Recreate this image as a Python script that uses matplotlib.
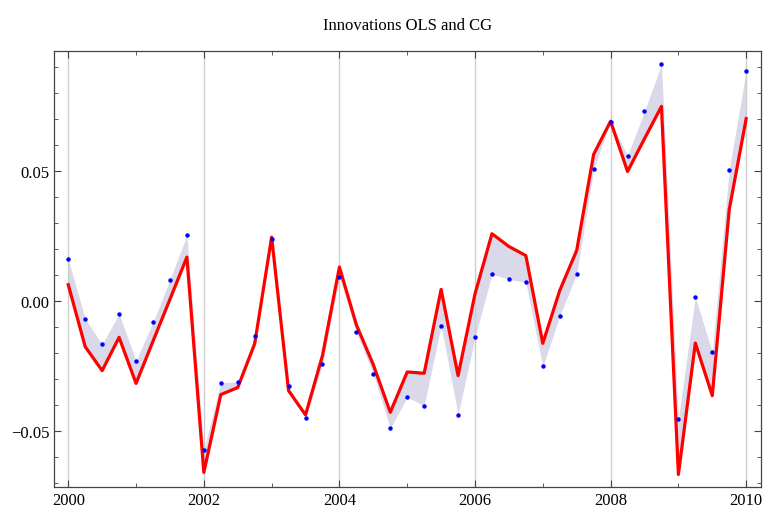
import numpy as np
import matplotlib
matplotlib.use('Agg')
import matplotlib.pyplot as plt
from matplotlib.ticker import MultipleLocator, FormatStrFormatter, FuncFormatter

# Quarterly dates 2000.00 .. 2010.00
quarters = [2000 + 0.25 * i for i in range(41)]

# CG innovations (blue points)
cg = [0.0160, -0.0069, -0.0166, -0.0050, -0.0230, -0.0083, 0.0082, 0.0252,
      -0.0573, -0.0314, -0.0311, -0.0135, 0.0238, -0.0326, -0.0450, -0.0244,
      0.0092, -0.0120, -0.0281, -0.0489, -0.0370, -0.0402, -0.0095, -0.0437,
      -0.0140, 0.0103, 0.0083, 0.0071, -0.0252, -0.0058, 0.0104, 0.0505,
      0.0689, 0.0558, 0.0728, 0.0909, -0.0454, 0.0016, -0.0198, 0.0504,
      0.0884]

# OLS innovations (red line)
ols = [0.0062, -0.0176, -0.0268, -0.0140, -0.0317, -0.0155, 0.0006, 0.0168,
       -0.0659, -0.0360, -0.0333, -0.0165, 0.0245, -0.0345, -0.0438, -0.0210,
       0.0130, -0.0092, -0.0245, -0.0428, -0.0273, -0.0278, 0.0044, -0.0287,
       0.0027, 0.0258, 0.0209, 0.0174, -0.0163, 0.0040, 0.0194, 0.0563,
       0.0690, 0.0497, 0.0623, 0.0747, -0.0667, -0.0162, -0.0364, 0.0351,
       0.0700]

plt.rcParams['font.family'] = ['Liberation Serif', 'DejaVu Serif']

fig = plt.figure(figsize=(7.64, 5.10), dpi=100)
ax = fig.add_axes([0.0707, 0.0431, 0.9255, 0.855])

ax.fill_between(quarters, cg, ols, color='#d9d9ea', linewidth=0, zorder=1)
ax.plot(quarters, ols, color='red', linewidth=2.3, zorder=3)
ax.plot(quarters, cg, 'o', color='blue', markersize=3.2, markeredgewidth=0, zorder=4)

ax.set_xlim(1999.79, 2010.22)
ax.set_ylim(-0.0715, 0.096)

ax.xaxis.set_major_locator(MultipleLocator(2))
ax.xaxis.set_minor_locator(MultipleLocator(1))
ax.yaxis.set_major_locator(MultipleLocator(0.05))
ax.yaxis.set_minor_locator(MultipleLocator(0.01))
ax.yaxis.set_major_formatter(FuncFormatter(lambda v, p: ('%.2f' % v).replace('-', '\u2212')))
ax.xaxis.set_major_formatter(FormatStrFormatter('%d'))

ax.grid(axis='x', which='major', color='#cccccc', linewidth=1.0, zorder=0)

ax.tick_params(which='both', direction='in', top=True, right=True,
               labelsize=12, colors='#444444', labelcolor='black')
ax.tick_params(which='major', length=5, width=0.8)
ax.tick_params(which='minor', length=3, width=0.6)
for s in ax.spines.values():
    s.set_color('#444444')
    s.set_linewidth(0.9)

ax.set_title('Innovations OLS and CG', fontsize=12, pad=16)

fig.savefig('out.png', dpi=100)
